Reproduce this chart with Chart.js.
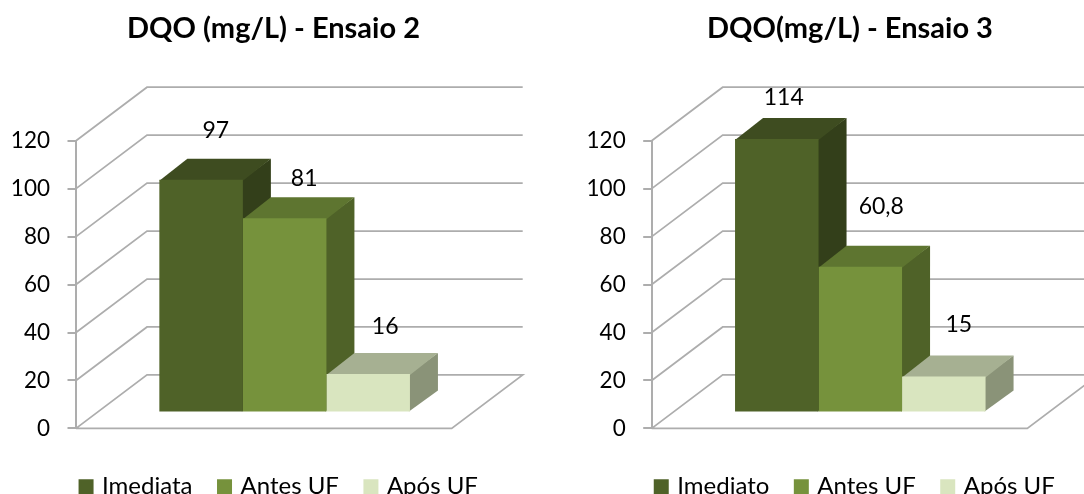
<!DOCTYPE html>
<html>
<head>
<meta charset="utf-8">
<title>DQO</title>
<script src="https://cdn.jsdelivr.net/npm/chart.js@4"></script>
<style>
    html, body { margin: 0; padding: 0; background: #fff; overflow: hidden; width: 1084px; height: 494px; }
    canvas { position: absolute; top: 0; }
    #chart2 { left: -36px; }
    #chart3 { left: 540px; }
</style>
</head>
<body>
<canvas id="chart2" width="600" height="520"></canvas>
<canvas id="chart3" width="600" height="520"></canvas>
<script>
const yTickMax = 120;
const yTickStep = 20;

const title2 = 'DQO (mg/L) - Ensaio 2';
const series2 = ['Imediata', 'Antes UF', 'Após UF'];
const values2 = [97, 81, 16];
const labelNudge2 = [[14.7, -49.5], [19.5, -40], [17, -47]];

const title3 = 'DQO(mg/L) - Ensaio 3';
const series3 = ['Imediato', 'Antes UF', 'Após UF'];
const values3 = [114, 60.8, 15];
const labelNudge3 = [[7, -42], [21, -60], [15, -51.5]];

const frontColors = ['#4f6228', '#76923c', '#d9e5bf'];
const topColors = ['#3e4c20', '#5e7530', '#a6b092'];
const sideColors = ['#333f1a', '#4f6228', '#8a9378'];

const gridColor = '#adadad';

// how far the back wall sits from the front plane
const wallDX = 71;
const wallDY = 53.5;
// where the bars stand on the floor, and their depth
const barShiftX = 20.8;
const barShiftY = 16;
const barDepthX = 28;
const barDepthY = 21;

Chart.defaults.font.family = 'Lato';
Chart.defaults.color = '#000';

function poly(ctx, color, pts) {
    ctx.fillStyle = color;
    ctx.beginPath();
    ctx.moveTo(pts[0][0], pts[0][1]);
    for (let i = 1; i < pts.length; i++) ctx.lineTo(pts[i][0], pts[i][1]);
    ctx.closePath();
    ctx.fill();
}

// walls, floor and the side/top faces of the bars
const box3d = {
    id: 'box3d',
    afterLayout(chart, args, opts) {
        const t = chart.titleBlock;
        const tShift = opts.titleCenter - (t.left + t.right) / 2;
        t.left += tShift;
        t.right += tShift;
        const l = chart.legend;
        const lShift = opts.legendCenter - (l.left + l.right) / 2;
        l.left += lShift;
        l.right += lShift;
        l.top += opts.legendDown;
        l.bottom += opts.legendDown;
    },
    beforeDatasetsDraw(chart) {
        const ctx = chart.ctx;
        const y = chart.scales.y;
        const a = chart.chartArea;
        ctx.save();
        ctx.strokeStyle = gridColor;
        ctx.lineWidth = 1.75;
        y.ticks.forEach(t => {
            const py = y.getPixelForValue(t.value);
            ctx.beginPath();
            ctx.moveTo(a.left, py);
            ctx.lineTo(a.left + wallDX, py - wallDY);
            ctx.lineTo(a.right + wallDX, py - wallDY);
            if (t.value === 0) {
                ctx.lineTo(a.right, py);
                ctx.lineTo(a.left, py);
            }
            ctx.stroke();
        });
        chart.data.datasets.forEach((ds, i) => {
            const bar = chart.getDatasetMeta(i).data[0];
            const l = bar.x - bar.width / 2 + barShiftX;
            const r = bar.x + bar.width / 2 + barShiftX;
            const top = bar.y - barShiftY;
            const bot = bar.base - barShiftY;
            // 1px tuck under the front face so no seam shows
            poly(ctx, sideColors[i], [[r - 1, top], [r + barDepthX, top - barDepthY], [r + barDepthX, bot - barDepthY], [r - 1, bot]]);
            poly(ctx, topColors[i], [[l, top + 1], [l + barDepthX, top - barDepthY], [r + barDepthX, top - barDepthY], [r, top + 1]]);
        });
        ctx.restore();
        // the library's own bars get drawn pushed back onto the floor
        ctx.save();
        ctx.translate(barShiftX, -barShiftY);
    },
    afterDatasetsDraw(chart, args, opts) {
        const ctx = chart.ctx;
        ctx.restore();
        ctx.save();
        ctx.font = '23px Lato';
        ctx.fillStyle = '#000';
        ctx.textAlign = 'center';
        ctx.textBaseline = 'middle';
        chart.data.datasets.forEach((ds, i) => {
            const bar = chart.getDatasetMeta(i).data[0];
            const nudge = opts.labelNudge[i];
            const text = ds.data[0].toLocaleString('pt-BR');
            ctx.fillText(text, bar.x + barShiftX + nudge[0], bar.y - barShiftY + nudge[1]);
        });
        ctx.restore();
    }
};

function makeChart(id, title, series, values, nudge, axisLeft, paddingRight, titleCenter, legendCenter) {
    const datasets = series.map((name, i) => ({
        label: name,
        data: [values[i]],
        backgroundColor: frontColors[i],
        borderWidth: 0,
        categoryPercentage: 0.667,
        barPercentage: 1
    }));
    return new Chart(document.getElementById(id), {
        type: 'bar',
        data: { labels: [''], datasets: datasets },
        plugins: [box3d],
        options: {
            responsive: false,
            animation: false,
            layout: { padding: { left: 0, right: paddingRight, top: 0, bottom: 29.6 } },
            scales: {
                x: { display: false },
                y: {
                    min: 0,
                    max: yTickMax,
                    afterFit: scale => { scale.width = axisLeft; },
                    ticks: { stepSize: yTickStep, padding: 17.5, font: { size: 22.5 }, color: '#000' },
                    grid: { drawOnChartArea: false, color: gridColor, lineWidth: 2, tickLength: 8.5 },
                    border: { color: gridColor, width: 2 }
                }
            },
            plugins: {
                title: {
                    display: true,
                    text: title,
                    color: '#000',
                    font: { size: 29, weight: 'bold' },
                    padding: { top: 11.6, bottom: 94.3 }
                },
                legend: {
                    position: 'bottom',
                    labels: {
                        color: '#000',
                        font: { size: 24 },
                        padding: 28,
                        usePointStyle: true,
                        pointStyle: 'rect',
                        boxWidth: 8,
                        boxHeight: 15
                    }
                },
                tooltip: { enabled: false },
                box3d: { labelNudge: nudge, titleCenter: titleCenter, legendCenter: legendCenter, legendDown: 18.3 }
            }
        }
    });
}

makeChart('chart2', title2, series2, values2, labelNudge2, 112, 112.3, 309.5, 316);
makeChart('chart3', title3, series3, values3, labelNudge3, 111.7, 112.7, 310, 316);
</script>
</body>
</html>
